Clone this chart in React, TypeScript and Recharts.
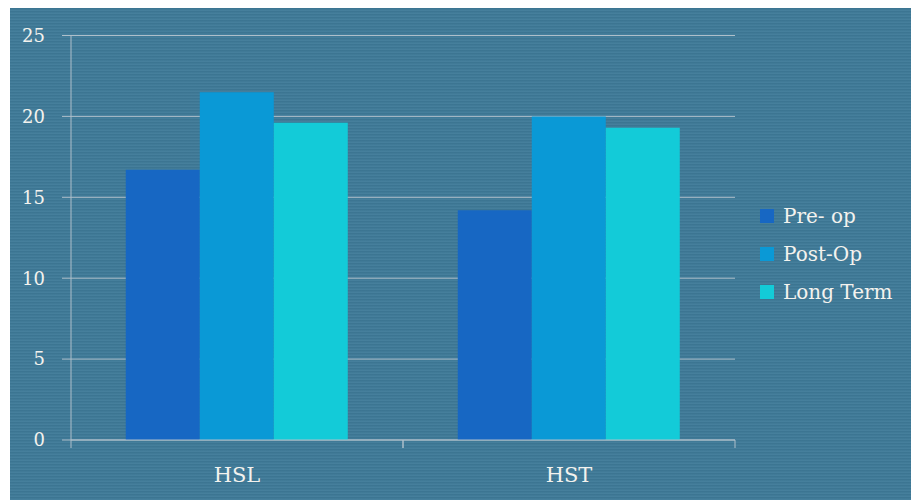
import React from "react";
import { BarChart, Bar, XAxis, YAxis, CartesianGrid, Legend } from "recharts";

const categories = ["HSL", "HST"];
const preOp = [16.7, 14.2];
const postOp = [21.5, 20.0];
const longTerm = [19.6, 19.3];
const yTicks = [0, 5, 10, 15, 20, 25];
const seriesNames = ["Pre- op", "Post-Op", "Long Term"];
const seriesColors = ["#1767c3", "#0a99d6", "#13cbd8"];

const data = categories.map((c, i) => ({
  name: c,
  pre: preOp[i],
  post: postOp[i],
  long: longTerm[i],
}));

const FONT = "'DejaVu Serif', serif";
const TEXT = "#f3f2ee";
const LINE = "#aebfca";
const X_TICK_MARGIN = 27;

const CategoryTick = (props: any) => {
  const { x, y, payload } = props;
  const half = payload && payload.offset ? payload.offset : 0;
  const axisY = y - X_TICK_MARGIN;
  return (
    <g>
      <line x1={x - half} x2={x - half} y1={axisY} y2={axisY + 8} stroke={LINE} />
      <line x1={x + half} x2={x + half} y1={axisY} y2={axisY + 8} stroke={LINE} />
      <text
        x={x}
        y={y}
        dy="0.71em"
        textAnchor="middle"
        fill={TEXT}
        fontSize={21}
        fontFamily={FONT}
      >
        {payload.value}
      </text>
    </g>
  );
};

const LegendContent = () => (
  <div style={{ fontFamily: FONT, color: TEXT, fontSize: 20 }}>
    {seriesNames.map((n, i) => (
      <div key={n} style={{ display: "flex", alignItems: "center", height: 38 }}>
        <span
          style={{
            display: "inline-block",
            width: 14,
            height: 14,
            background: seriesColors[i],
            marginRight: 9,
          }}
        />
        <span>{n}</span>
      </div>
    ))}
  </div>
);

export default function App() {
  return (
    <div
      style={{
        marginLeft: 2,
        width: 903,
        height: 492,
        background: "#3e7a98",
        backgroundImage:
          "repeating-linear-gradient(0deg, rgba(255,255,255,0.04) 0px, rgba(255,255,255,0.04) 1px, rgba(0,0,0,0.04) 2px, rgba(0,0,0,0.04) 3px)",
      }}
    >
      <BarChart
        width={903}
        height={492}
        data={data}
        margin={{ top: 27.5, right: 18, left: 0, bottom: 0 }}
        barCategoryGap="16.5%"
        barGap={0}
      >
        <CartesianGrid
          xAxisId="cat"
          vertical={false}
          stroke={LINE}
          strokeWidth={1}
        />
        <XAxis
          xAxisId="cat"
          dataKey="name"
          height={60}
          axisLine={{ stroke: LINE }}
          tickLine={false}
          tickSize={0}
          tickMargin={X_TICK_MARGIN}
          tick={<CategoryTick />}
        />
        <YAxis
          width={61}
          domain={[0, 25]}
          ticks={yTicks}
          interval={0}
          axisLine={{ stroke: LINE }}
          tickLine={{ stroke: LINE }}
          tickSize={9}
          tickMargin={17}
          tick={{ fill: TEXT, fontSize: 18, fontFamily: FONT }}
        />
        <Legend
          layout="vertical"
          align="right"
          verticalAlign="middle"
          width={160}
          content={<LegendContent />}
          wrapperStyle={{ position: "absolute", left: 750, top: 189, width: 160 }}
        />
        <Bar xAxisId="cat" dataKey="pre" name={seriesNames[0]} fill={seriesColors[0]} isAnimationActive={false} />
        <Bar xAxisId="cat" dataKey="post" name={seriesNames[1]} fill={seriesColors[1]} isAnimationActive={false} />
        <Bar xAxisId="cat" dataKey="long" name={seriesNames[2]} fill={seriesColors[2]} isAnimationActive={false} />
      </BarChart>
    </div>
  );
}
